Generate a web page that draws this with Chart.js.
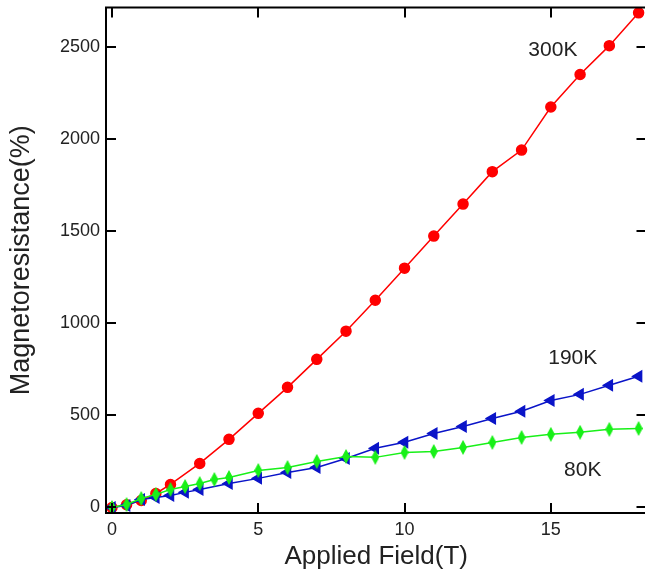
<!DOCTYPE html>
<html>
<head>
<meta charset="utf-8">
<script src="https://cdn.jsdelivr.net/npm/chart.js@4.4.1/dist/chart.umd.min.js"></script>
<style>
  html, body { margin: 0; padding: 0; background: #fff; overflow: hidden; }
  #chart { display: block; width: 654px; height: 576px; }
</style>
</head>
<body>
<canvas id="chart" width="654" height="576"></canvas>
<script>
// field values (T) and magnetoresistance (%)
const field300 = [0, 0.5, 1, 1.5, 2, 3, 4, 5, 6, 7, 8, 9, 10, 11, 12, 13, 14, 15, 16, 17, 18];
const mr300 = [0, 15, 38, 76, 125, 239, 370, 511, 652, 804, 957, 1125, 1299, 1473, 1647, 1823, 1940, 2174, 2350, 2507, 2685];

const field190 = [0, 0.5, 1, 1.5, 2, 2.5, 3, 4, 5, 6, 7, 8, 9, 10, 11, 12, 13, 14, 15, 16, 17, 18];
const mr190 = [0, 11, 43, 54, 65, 82, 98, 130, 158, 190, 217, 266, 321, 354, 402, 440, 483, 522, 581, 614, 663, 712];

const field80 = [0, 0.5, 1, 1.5, 2, 2.5, 3, 3.5, 4, 5, 6, 7, 8, 9, 10, 11, 12, 13, 14, 15, 16, 17, 18];
const mr80 = [0, 16, 49, 71, 98, 114, 130, 152, 163, 201, 217, 250, 277, 272, 299, 304, 326, 353, 380, 397, 408, 424, 429];

const xTicks = [0, 5, 10, 15];
const yTicks = [0, 500, 1000, 1500, 2000, 2500];

const curveLabels = [
  { text: '300K', x: 15.07, y: 2481 },
  { text: '190K', x: 15.75, y: 811 },
  { text: '80K', x: 16.09, y: 203 },
];

const toPoints = (xs, ys) => xs.map((x, i) => ({ x, y: ys[i] }));

// narrow upright diamond marker for the 80K series
function diamondMarker(color) {
  const c = document.createElement('canvas');
  c.width = 8;
  c.height = 15;
  const g = c.getContext('2d');
  g.fillStyle = color;
  g.beginPath();
  g.moveTo(4, 0);
  g.lineTo(8, 7.5);
  g.lineTo(4, 15);
  g.lineTo(0, 7.5);
  g.closePath();
  g.fill();
  return c;
}

const FONT = "'Liberation Sans', Arial, sans-serif";

const framePlugin = {
  id: 'frame',
  afterDatasetsDraw(chart) {
    const { ctx, chartArea: a, scales } = chart;
    ctx.save();
    ctx.strokeStyle = '#000';
    ctx.lineWidth = 2;
    ctx.beginPath();
    xTicks.forEach((v) => {
      const px = Math.round(scales.x.getPixelForValue(v));
      ctx.moveTo(px, a.bottom); ctx.lineTo(px, a.bottom - 10);
      ctx.moveTo(px, a.top); ctx.lineTo(px, a.top + 10);
    });
    yTicks.forEach((v) => {
      const py = Math.round(scales.y.getPixelForValue(v));
      ctx.moveTo(a.left, py); ctx.lineTo(a.left + 10, py);
      ctx.moveTo(a.right, py); ctx.lineTo(a.right - 10, py);
    });
    ctx.stroke();
    ctx.strokeRect(a.left, a.top, a.right - a.left, a.bottom - a.top);

    ctx.fillStyle = '#222';
    ctx.font = `21px ${FONT}`;
    ctx.textAlign = 'center';
    ctx.textBaseline = 'middle';
    curveLabels.forEach((l) => {
      ctx.fillText(l.text, scales.x.getPixelForValue(l.x), scales.y.getPixelForValue(l.y));
    });
    ctx.restore();
  },
};

const noPad = (s) => { s.paddingLeft = 0; s.paddingRight = 0; s.paddingTop = 0; s.paddingBottom = 0; };

new Chart(document.getElementById('chart'), {
  type: 'scatter',
  data: {
    datasets: [
      {
        label: '80K',
        data: toPoints(field80, mr80),
        showLine: true,
        borderColor: '#18f018',
        backgroundColor: '#18f018',
        borderWidth: 1.5,
        pointStyle: diamondMarker('#18f018'),
      },
      {
        label: '190K',
        data: toPoints(field190, mr190),
        showLine: true,
        borderColor: '#0a14c8',
        backgroundColor: '#0a14c8',
        borderWidth: 1.5,
        pointStyle: 'triangle',
        rotation: -90,
        pointRadius: 6,
      },
      {
        label: '300K',
        data: toPoints(field300, mr300),
        showLine: true,
        borderColor: '#ff0000',
        backgroundColor: '#ff0000',
        borderWidth: 1.5,
        pointStyle: 'circle',
        pointRadius: 5,
      },
    ],
  },
  options: {
    responsive: false,
    devicePixelRatio: 1,
    animation: false,
    layout: { padding: { top: 7, right: 0, left: 0, bottom: 0 } },
    plugins: { legend: { display: false }, tooltip: { enabled: false } },
    scales: {
      x: {
        type: 'linear',
        min: -0.204,
        max: 18.27,
        afterBuildTicks: (s) => { s.ticks = xTicks.map((v) => ({ value: v })); },
        afterFit: (s) => { s.height = 63; noPad(s); },
        grid: { display: false, drawTicks: false },
        border: { display: false },
        ticks: { color: '#222', padding: 6, font: { family: FONT, size: 18 }, callback: (v) => String(v) },
        title: { display: true, text: 'Applied Field(T)', color: '#222', padding: { top: 0, bottom: 4 }, font: { family: FONT, size: 26 } },
      },
      y: {
        type: 'linear',
        min: -30,
        max: 2714,
        afterBuildTicks: (s) => { s.ticks = yTicks.map((v) => ({ value: v })); },
        afterFit: (s) => { s.width = 106; noPad(s); },
        grid: { display: false, drawTicks: false },
        border: { display: false },
        ticks: { color: '#222', padding: 6, font: { family: FONT, size: 18 }, callback: (v) => String(v) },
        title: { display: true, text: 'Magnetoresistance(%)', color: '#222', padding: { top: 5, bottom: 0 }, font: { family: FONT, size: 27 } },
      },
    },
  },
  plugins: [framePlugin],
});
</script>
</body>
</html>
